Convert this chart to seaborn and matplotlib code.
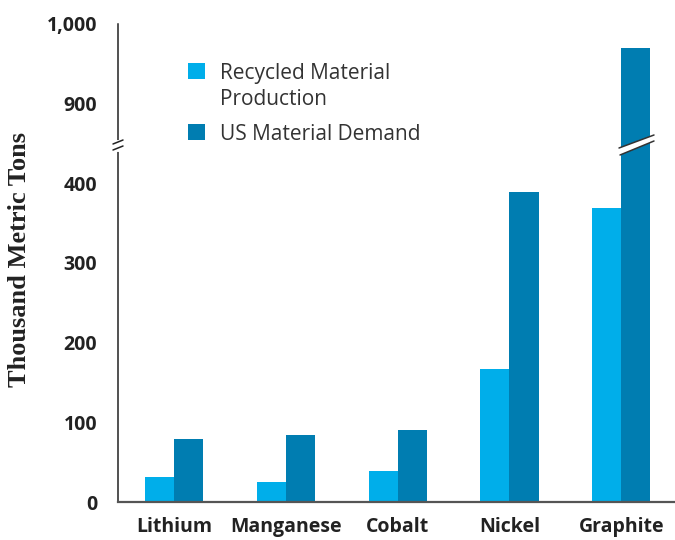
import matplotlib
matplotlib.use("Agg")
import matplotlib.pyplot as plt
import numpy as np
import pandas as pd
import seaborn as sns
from matplotlib.lines import Line2D
from matplotlib.patches import Polygon

minerals = ["Lithium", "Manganese", "Cobalt", "Nickel", "Graphite"]
recycled = [31, 25, 39, 167, 369]
demand = [79, 84, 90, 389, 970]
series_names = ["Recycled Material\nProduction", "US Material Demand"]
colors = ["#00AEEA", "#007DB1"]

bottom_ticks = [0, 100, 200, 300, 400]
top_ticks = [900, 1000]

df = pd.DataFrame(
    {
        "mineral": minerals * 2,
        "value": recycled + demand,
        "series": [series_names[0]] * len(minerals) + [series_names[1]] * len(minerals),
    }
)

sns.set_style("white")
plt.rcParams["font.family"] = ["Open Sans", "DejaVu Sans"]

W, H = 675, 540
fig = plt.figure(figsize=(6.75, 5.4), dpi=100)


def fpt(x, y):
    return (x / W, 1 - y / H)


left = 118 / W
split = 146.5
ax_top = fig.add_axes([left, 1 - split / H, 1 - left, (split - 24) / H])
ax_bot = fig.add_axes([left, 1 - 502 / H, 1 - left, (502 - split) / H])

for ax in (ax_top, ax_bot):
    sns.barplot(
        data=df,
        x="mineral",
        y="value",
        hue="series",
        palette=colors,
        width=0.52,
        saturation=1,
        linewidth=0,
        errorbar=None,
        ax=ax,
    )
    ax.set_xlim(-0.5, 4.48)
    ax.set_xlabel("")
    ax.set_ylabel("")
    for s in ["top", "right"]:
        ax.spines[s].set_visible(False)
    ax.spines["left"].set_color("#222222")
    ax.spines["left"].set_linewidth(1.1)
    ax.tick_params(axis="y", length=8, width=1.3, color="#888888", pad=7,
                   labelsize=14, labelcolor="#222222")

ax_top.set_ylim(845, 1000)
ax_top.set_yticks(top_ticks)
ax_top.set_yticklabels([f"{t:,}" for t in top_ticks], fontweight="bold")
ax_top.spines["bottom"].set_visible(False)
ax_top.set_xticks([])
ax_top.get_legend().remove()

ax_bot.set_ylim(0, 445.8)
ax_bot.set_yticks(bottom_ticks)
ax_bot.set_yticklabels([f"{t:,}" for t in bottom_ticks], fontweight="bold")
ax_bot.spines["bottom"].set_color("#555555")
ax_bot.spines["bottom"].set_linewidth(1.6)
ax_bot.tick_params(axis="x", length=0, pad=11, labelsize=14, labelcolor="#222222")
for lab in ax_bot.get_xticklabels():
    lab.set_fontweight("bold")

handles, labels = ax_bot.get_legend_handles_labels()
ax_bot.get_legend().remove()
leg = fig.legend(
    handles,
    labels,
    loc="upper left",
    bbox_to_anchor=fpt(169, 44),
    frameon=False,
    fontsize=15,
    handlelength=0.82,
    handleheight=0.82,
    handletextpad=0.75,
    labelspacing=0.7,
)
for t in leg.get_texts():
    t.set_color("#333333")
    t.set_linespacing(1.3)
# square sits level with the first text line
for col in leg._legend_handle_box.get_children():
    for item in col.get_children():
        item.align = "top"

fig.text(20 / W, 1 - 260 / H, "Thousand Metric Tons", rotation=90,
         ha="center", va="center", fontsize=19, fontweight="bold",
         family=["Liberation Serif", "DejaVu Serif"], color="#222222")

# break on the left spine
x1, y1 = fpt(118, 142)
x2, y2 = fpt(118, 150)
fig.add_artist(Line2D([x1, x2], [y1, y2], color="white", lw=3))
for y0 in (144, 150):
    x1, y1 = fpt(113, y0)
    x2, y2 = fpt(123, y0 - 4)
    fig.add_artist(Line2D([x1, x2], [y1, y2], color="#222222", lw=1.1))

# break across the tall graphite bar
poly = Polygon([fpt(619, 148), fpt(654, 135), fpt(654, 141), fpt(620, 155)],
               closed=True, facecolor="white", edgecolor="none",
               transform=fig.transFigure)
fig.add_artist(poly)
for (xa, ya, xb, yb) in [(619, 148, 654, 135), (620, 155, 654, 141)]:
    p1 = fpt(xa, ya)
    p2 = fpt(xb, yb)
    fig.add_artist(Line2D([p1[0], p2[0]], [p1[1], p2[1]], color="#333333", lw=1.1))

fig.savefig("out.png", dpi=100)
